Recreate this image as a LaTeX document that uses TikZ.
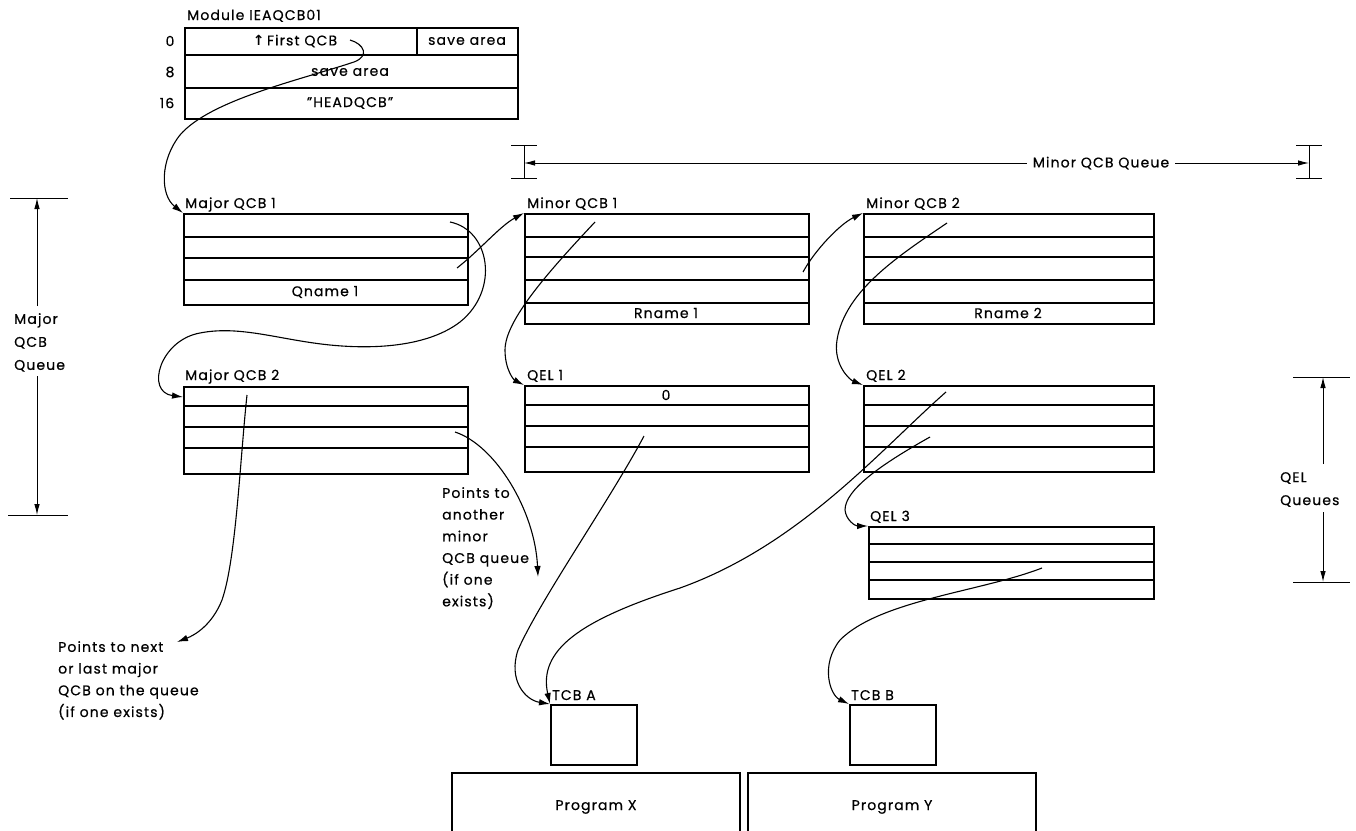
\documentclass[tikz,border=0pt]{standalone}
\usepackage{fontspec}
\setmainfont{Poppins}[LetterSpace=8,FakeBold=0.6]
\newfontfamily\symfont{DejaVu Sans}
\usetikzlibrary{arrows.meta}
\begin{document}
\begin{tikzpicture}[x=1pt,y=-1pt,
  box/.style={draw, line width=1.5pt, inner sep=0pt, anchor=north west},
  row/.style={line width=1.5pt},
  ptr/.style={line width=1.1pt, -{Latex[length=11pt,width=6.5pt]}},
  dimarrow/.style={line width=0.9pt, -{Latex[length=11pt,width=5.5pt]}},
  dimline/.style={line width=0.9pt},
  txt/.style={inner sep=0pt, font=\fontsize{14}{16}\selectfont},
  lbl/.style={inner sep=0pt, anchor=base west, font=\fontsize{14}{16}\selectfont},
  note/.style={inner sep=0pt, anchor=north west, align=left, font=\fontsize{14}{21.7}\selectfont}]
\useasboundingbox (0,0) rectangle (1356,830);

% ---------- Module IEAQCB01 ----------
\node[lbl] (modlbl) at (187,20) {Module IEAQCB01};
\node[box, minimum width=333pt, minimum height=91pt] (mod) at (184,27) {};
\draw[row] (184,55) -- (517,55);
\draw[row] (184,88) -- (517,88);
\draw[row] (417,27) -- (417,55);
\node[txt] (off0) at (170,41) {0};
\node[txt] (off8) at (170,72) {8};
\node[txt] (off16) at (167,103) {16};
\node[txt] (firstqcb) at (295,41) {{\symfont\bfseries ↑}\,First QCB};
\node[txt] (sa1) at (467,41) {save area};
\node[txt] (sa2) at (350,72) {save area};
\node[txt] (head) at (350,103) {"HEADQCB"};

% ---------- Major QCB 1 ----------
\node[lbl] (mq1lbl) at (185,208) {Major QCB 1};
\node[box, minimum width=284pt, minimum height=91pt] (mq1) at (183,213) {};
\draw[row] (183,237) -- (467,237);
\draw[row] (183,258) -- (467,258);
\draw[row] (183,280) -- (467,280);
\node[txt] (qn1) at (325,292) {Qname 1};

% ---------- Minor QCB 1 ----------
\node[lbl] (mn1lbl) at (527,208) {Minor QCB 1};
\node[box, minimum width=284pt, minimum height=110pt] (mn1) at (524,213) {};
\draw[row] (524,237) -- (808,237);
\draw[row] (524,257) -- (808,257);
\draw[row] (524,280) -- (808,280);
\draw[row] (524,303) -- (808,303);
\node[txt] (rn1) at (666,313) {Rname 1};

% ---------- Minor QCB 2 ----------
\node[lbl] (mn2lbl) at (866,208) {Minor QCB 2};
\node[box, minimum width=290pt, minimum height=110pt] (mn2) at (863,213) {};
\draw[row] (863,237) -- (1153,237);
\draw[row] (863,257) -- (1153,257);
\draw[row] (863,280) -- (1153,280);
\draw[row] (863,303) -- (1153,303);
\node[txt] (rn2) at (1008,313) {Rname 2};

% ---------- Major QCB 2 ----------
\node[lbl] (mq2lbl) at (185,380) {Major QCB 2};
\node[box, minimum width=284pt, minimum height=87pt] (mq2) at (183,386) {};
\draw[row] (183,406) -- (467,406);
\draw[row] (183,427) -- (467,427);
\draw[row] (183,448) -- (467,448);

% ---------- QEL 1 ----------
\node[lbl] (q1lbl) at (527,380) {QEL 1};
\node[box, minimum width=284pt, minimum height=86pt] (qel1) at (524,385) {};
\draw[row] (524,405) -- (808,405);
\draw[row] (524,426) -- (808,426);
\draw[row] (524,447) -- (808,447);
\node[txt] (zero) at (666,395) {0};

% ---------- QEL 2 ----------
\node[lbl] (q2lbl) at (866,380) {QEL 2};
\node[box, minimum width=290pt, minimum height=86pt] (qel2) at (863,385) {};
\draw[row] (863,405) -- (1153,405);
\draw[row] (863,426) -- (1153,426);
\draw[row] (863,447) -- (1153,447);

% ---------- QEL 3 ----------
\node[lbl] (q3lbl) at (870,521) {QEL 3};
\node[box, minimum width=285pt, minimum height=72pt] (qel3) at (868,526) {};
\draw[row] (868,544) -- (1153,544);
\draw[row] (868,562) -- (1153,562);
\draw[row] (868,580) -- (1153,580);

% ---------- TCBs and programs ----------
\node[lbl] (tcbalbl) at (552,700) {TCB A};
\node[box, minimum width=86pt, minimum height=60pt] (tcba) at (550,704) {};
\node[lbl] (tcbblbl) at (851,700) {TCB B};
\node[box, minimum width=86pt, minimum height=60pt] (tcbb) at (849,704) {};
\coordinate (pxbl) at (452,832);
\coordinate (pxtl) at (452,773);
\coordinate (pxtr) at (740,773);
\coordinate (pxbr) at (740,832);
\draw[row] (pxbl) -- (pxtl) -- (pxtr) -- (pxbr);
\node[txt] (progx) at (596,807) {Program X};
\coordinate (pybl) at (748,832);
\coordinate (pytl) at (748,773);
\coordinate (pytr) at (1036,773);
\coordinate (pybr) at (1036,832);
\draw[row] (pybl) -- (pytl) -- (pytr) -- (pybr);
\node[txt] (progy) at (892,807) {Program Y};

% ---------- notes ----------
\node[note] (noteA) at (442,487) {Points to\\another\\minor\\QCB queue\\(if one\\exists)};
\node[note] (noteB) at (58,641) {Points to next\\or last major\\QCB on the queue\\(if one exists)};

% ---------- pointer start points ----------
\coordinate (pFirst) at (350,40);
\coordinate (pMq1a) at (450,222);
\coordinate (pMq1c) at (457,268);
\coordinate (pMn1a) at (595,222);
\coordinate (pMn1c) at (803,272);
\coordinate (pMn2a) at (947,223);
\coordinate (pMq2a) at (247,395);
\coordinate (pMq2c) at (455,432);
\coordinate (pQ1c) at (644,436);
\coordinate (pQ2a) at (946,392);
\coordinate (pQ2c) at (930,437);
\coordinate (pQ3c) at (1042,568);
\coordinate (endA) at (177,642);
\coordinate (endB) at (538,577);

% ---------- pointers ----------
\draw[ptr] (pFirst) .. controls (364,44) and (370,56) .. (354,62)
  .. controls (300,80) and (210,100) .. (180,135)
  .. controls (160,160) and (160,195) .. (mq1.north west);
\draw[ptr] (pMq1a) .. controls (490,230) and (500,290) .. (460,322)
  .. controls (430,345) and (380,350) .. (330,345)
  .. controls (280,340) and (240,325) .. (200,333)
  .. controls (160,340) and (145,392) .. (mq2.north west |- 0,397);
\draw[ptr] (pMq1c) .. controls (480,250) and (500,226) .. (mn1.north west);
\draw[ptr] (pMn1a) .. controls (550,270) and (505,320) .. (505,350)
  .. controls (505,370) and (514,380) .. (qel1.north west);
\draw[ptr] (pMn1c) .. controls (815,250) and (840,224) .. (mn2.north west);
\draw[ptr] (pMn2a) .. controls (900,255) and (845,290) .. (837,340)
  .. controls (833,365) and (850,380) .. (qel2.north west);
\draw[ptr] (pMq2a) .. controls (240,460) and (236,560) .. (222,600)
  .. controls (212,625) and (195,635) .. (endA);
\draw[ptr] (pMq2c) .. controls (495,445) and (535,510) .. (endB);
\draw[ptr] (pQ1c) .. controls (610,500) and (540,600) .. (518,650)
  .. controls (508,680) and (525,700) .. (tcba.north west);
\draw[ptr] (pQ2a) .. controls (880,450) and (800,545) .. (680,588)
  .. controls (580,620) and (538,650) .. (tcba.north west);
\draw[ptr] (pQ2c) .. controls (880,465) and (845,490) .. (845,510)
  .. controls (846,520) and (855,526) .. (qel3.north west);
\draw[ptr] (pQ3c) .. controls (980,592) and (880,600) .. (840,640)
  .. controls (820,665) and (830,695) .. (tcbb.north west);

% ---------- Major QCB Queue dimension ----------
\coordinate (mjT1) at (10,198);
\coordinate (mjT2) at (68,198);
\coordinate (mjB1) at (8,515);
\coordinate (mjB2) at (68,515);
\coordinate (mjTop) at (37,198);
\coordinate (mjBot) at (37,515);
\coordinate (mjU) at (37,306);
\coordinate (mjD) at (37,376);
\draw[dimline] (mjT1) -- (mjT2);
\draw[dimline] (mjB1) -- (mjB2);
\draw[dimarrow] (mjU) -- (mjTop);
\draw[dimarrow] (mjD) -- (mjBot);
\node[note, font=\fontsize{14}{23}\selectfont] (mjtxt) at (14,313) {Major\\QCB\\Queue};

% ---------- Minor QCB Queue dimension ----------
\coordinate (mnL1) at (511,145);
\coordinate (mnL2) at (537,145);
\coordinate (mnL3) at (511,178);
\coordinate (mnL4) at (537,178);
\coordinate (mnLt) at (524,145);
\coordinate (mnLb) at (524,178);
\coordinate (mnLm) at (524,163);
\coordinate (mnR1) at (1296,145);
\coordinate (mnR2) at (1322,145);
\coordinate (mnR3) at (1296,178);
\coordinate (mnR4) at (1322,178);
\coordinate (mnRt) at (1309,145);
\coordinate (mnRb) at (1309,178);
\coordinate (mnRm) at (1309,163);
\draw[dimline] (mnL1) -- (mnL2) (mnL3) -- (mnL4) (mnLt) -- (mnLb);
\draw[dimline] (mnR1) -- (mnR2) (mnR3) -- (mnR4) (mnRt) -- (mnRb);
\node[txt] (mntxt) at (1101,163) {Minor QCB Queue};
\draw[dimarrow] (mntxt.west) ++(-6,0) -- (mnLm);
\draw[dimarrow] (mntxt.east) ++(6,0) -- (mnRm);

% ---------- QEL Queues dimension ----------
\coordinate (qlT1) at (1293,377);
\coordinate (qlT2) at (1350,377);
\coordinate (qlB1) at (1293,582);
\coordinate (qlB2) at (1350,582);
\coordinate (qlTop) at (1323,377);
\coordinate (qlBot) at (1323,582);
\coordinate (qlU) at (1323,464);
\coordinate (qlD) at (1323,512);
\draw[dimline] (qlT1) -- (qlT2);
\draw[dimline] (qlB1) -- (qlB2);
\draw[dimarrow] (qlU) -- (qlTop);
\draw[dimarrow] (qlD) -- (qlBot);
\node[note, font=\fontsize{14}{23}\selectfont] (qltxt) at (1280,472) {QEL\\Queues};
\end{tikzpicture}
\end{document}
